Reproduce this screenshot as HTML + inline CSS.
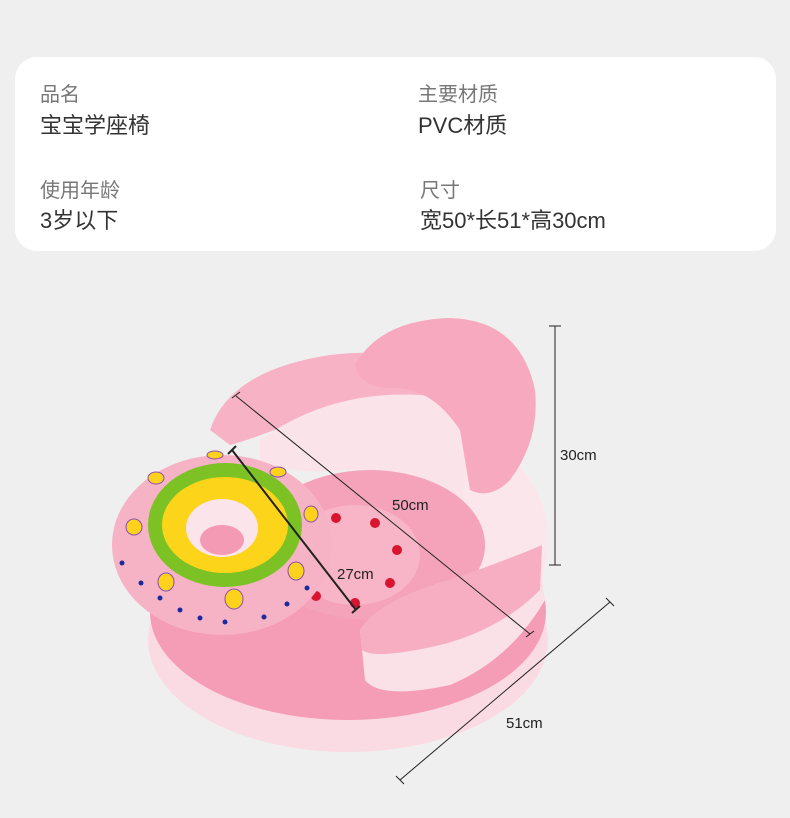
<!DOCTYPE html>
<html><head><meta charset="utf-8"><style>
body{margin:0;width:790px;height:818px;background:#efefef;font-family:"Liberation Sans","Noto Sans CJK SC",sans-serif;position:relative;overflow:hidden}
.card{position:absolute;left:15px;top:57px;width:761px;height:194px;background:#fff;border-radius:22px}
.t{position:absolute;white-space:nowrap}
.l{color:#777;font-size:20px}
.v{color:#333;font-size:22px}
svg{position:absolute;left:0;top:0}
</style></head><body>
<div class="card"></div>
<div class="t l" style="left:40px;top:78px">品名</div>
<div class="t v" style="left:40px;top:108px">宝宝学座椅</div>
<div class="t l" style="left:418px;top:78px">主要材质</div>
<div class="t v" style="left:418px;top:108px">PVC材质</div>
<div class="t l" style="left:40px;top:174px">使用年龄</div>
<div class="t v" style="left:40px;top:203px">3岁以下</div>
<div class="t l" style="left:420px;top:174px">尺寸</div>
<div class="t v" style="left:420px;top:203px">宽50*长51*高30cm</div>
<svg width="790" height="818" viewBox="0 0 790 818">
<ellipse cx="348" cy="640" rx="200" ry="112" fill="#fbdbe3"/>
<ellipse cx="348" cy="612" rx="198" ry="108" fill="#f59cb6"/>
<ellipse cx="470" cy="540" rx="78" ry="95" fill="#fbe6ec"/>
<path d="M210,430 Q230,370 330,355 Q420,345 470,380 L460,420 Q380,390 300,420 Q250,440 230,445 Z" fill="#f7b2c6"/>
<path d="M260,440 Q330,390 420,395 Q470,400 470,440 L460,520 Q420,465 340,470 Q290,475 260,460 Z" fill="#fbe3ea"/>
<ellipse cx="370" cy="545" rx="115" ry="75" fill="#f5a3bb"/>
<ellipse cx="355" cy="555" rx="65" ry="50" fill="#f8b5c7"/>
<g fill="#d8142f"><circle cx="336" cy="518" r="5"/><circle cx="375" cy="523" r="5"/><circle cx="397" cy="550" r="5"/><circle cx="390" cy="583" r="5"/><circle cx="355" cy="603" r="5"/><circle cx="316" cy="596" r="5"/></g>
<path d="M355,365 Q380,320 450,318 Q520,320 535,390 Q540,440 510,480 Q490,500 470,490 L460,430 Q430,385 390,388 Q360,388 355,365 Z" fill="#f7a9bf"/>
<path d="M360,630 Q380,600 450,580 Q520,555 540,560 L545,600 Q510,660 450,685 Q380,700 365,680 Z" fill="#fae1e8"/>
<path d="M360,630 Q380,600 450,580 Q520,555 542,545 L540,590 Q500,630 440,645 Q375,660 362,650 Z" fill="#f7adc2"/>
<ellipse cx="222" cy="545" rx="110" ry="90" fill="#f7b3c6"/>
<ellipse cx="225" cy="525" rx="77" ry="62" fill="#7cc225"/>
<ellipse cx="225" cy="525" rx="63" ry="48" fill="#fcd51a"/>
<ellipse cx="222" cy="528" rx="36" ry="29" fill="#fbe4ea"/>
<ellipse cx="222" cy="540" rx="22" ry="15" fill="#f49ab5"/>
<g fill="#fcd21c" stroke="#8a4fb0" stroke-width="1"><ellipse cx="215" cy="455" rx="8" ry="4"/><ellipse cx="156" cy="478" rx="8" ry="6"/><ellipse cx="278" cy="472" rx="8" ry="5"/><ellipse cx="134" cy="527" rx="8" ry="8"/><ellipse cx="311" cy="514" rx="7" ry="8"/><ellipse cx="166" cy="582" rx="8" ry="9"/><ellipse cx="296" cy="571" rx="8" ry="9"/><ellipse cx="234" cy="599" rx="9" ry="10"/></g>
<g fill="#1a2a9a"><circle cx="122" cy="563" r="2.5"/><circle cx="141" cy="583" r="2.5"/><circle cx="160" cy="598" r="2.5"/><circle cx="180" cy="610" r="2.5"/><circle cx="200" cy="618" r="2.5"/><circle cx="225" cy="622" r="2.5"/><circle cx="264" cy="617" r="2.5"/><circle cx="287" cy="604" r="2.5"/><circle cx="307" cy="588" r="2.5"/></g>
<g stroke="#222" fill="none">
<path d="M555,326V565M549,326H561M549,565H561" stroke-width="1"/>
<path d="M236,396L530,634M232,398L240,392M526,637L534,631" stroke-width="1"/>
<path d="M232,450L356,610M228,454L236,446M352,613L360,606" stroke-width="2"/>
<path d="M400,780L610,602M396,776L404,784M606,598L614,606" stroke-width="1"/>
</g>
<g font-family="Liberation Sans,sans-serif" font-size="15" fill="#222">
<text x="560" y="460">30cm</text><text x="392" y="510">50cm</text><text x="337" y="579">27cm</text><text x="506" y="728">51cm</text>
</g>
</svg>
</body></html>
